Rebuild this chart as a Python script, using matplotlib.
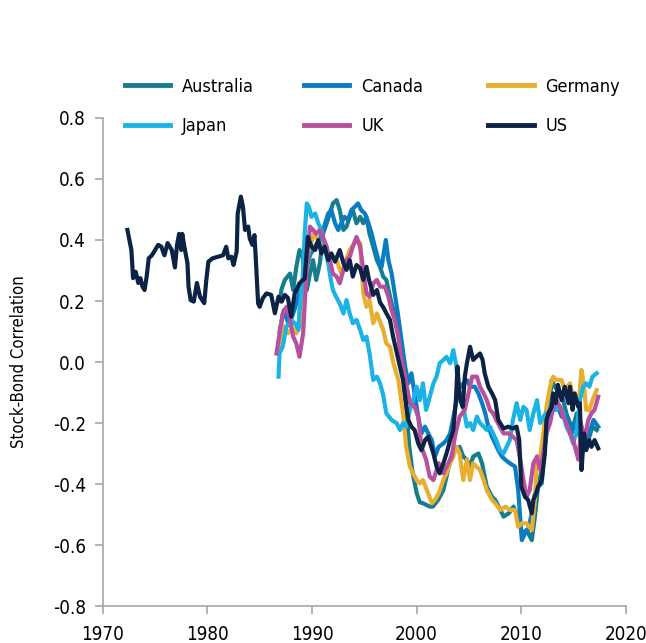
import matplotlib
matplotlib.use('Agg')
import matplotlib.pyplot as plt

plt.rcParams['font.family'] = ['DejaVu Sans']
plt.rcParams['font.stretch'] = 'condensed'

# values (year, rolling stock-bond correlation)
us_years = [1972.36, 1972.74, 1972.9, 1973.15, 1973.4, 1973.6, 1973.8, 1974.0, 1974.2, 1974.4,
            1974.7, 1975.0, 1975.3, 1975.6, 1975.9, 1976.2, 1976.6, 1976.9, 1977.1, 1977.3,
            1977.5, 1977.6, 1977.8, 1978.1, 1978.2, 1978.4, 1978.7, 1979.0, 1979.3, 1979.7,
            1979.9, 1980.1, 1980.5, 1981.0, 1981.5, 1981.8, 1982.0, 1982.3, 1982.5, 1982.8,
            1982.9, 1983.2, 1983.4, 1983.6, 1983.9, 1984.05, 1984.3, 1984.5, 1984.6, 1984.85,
            1985.0, 1985.3, 1985.65, 1986.1, 1986.45, 1986.8, 1987.1, 1987.4, 1987.7, 1988.0,
            1988.35, 1988.8, 1989.3, 1989.6, 1989.95, 1990.3, 1990.6, 1990.9, 1991.2, 1991.55,
            1991.85, 1992.2, 1992.65, 1993.0, 1993.3, 1993.6, 1993.9, 1994.25, 1994.6, 1994.9,
            1995.2, 1995.45, 1995.85, 1996.2, 1996.5, 1996.8, 1997.1, 1997.45, 1997.75, 1998.1,
            1998.4, 1998.7, 1998.9, 1999.2, 1999.5, 1999.8, 2000.15, 2000.45, 2000.8, 2001.1,
            2001.6, 2001.9, 2002.2, 2002.55, 2002.85, 2003.2, 2003.5, 2003.75, 2003.9, 2004.1,
            2004.4, 2004.6, 2004.8, 2005.1, 2005.4, 2005.7, 2006.05, 2006.3, 2006.5, 2006.85,
            2007.2, 2007.5, 2007.8, 2008.3, 2008.75, 2009.2, 2009.55, 2009.8, 2010.0, 2010.35,
            2010.65, 2011.0, 2011.15, 2011.4, 2011.6, 2011.95, 2012.25, 2012.4, 2012.6, 2012.9,
            2013.05, 2013.3, 2013.5, 2013.85, 2014.15, 2014.5, 2014.65, 2014.9, 2015.1, 2015.45,
            2015.6, 2015.75, 2016.0, 2016.2, 2016.5, 2016.7, 2017.0, 2017.35]
us_vals = [0.433, 0.367, 0.275, 0.296, 0.259, 0.275, 0.247, 0.236, 0.28, 0.34,
           0.35, 0.367, 0.384, 0.378, 0.35, 0.39, 0.367, 0.31, 0.384, 0.42,
           0.367, 0.42, 0.378, 0.324, 0.247, 0.203, 0.198, 0.259, 0.214, 0.193,
           0.269, 0.329, 0.34, 0.345, 0.35, 0.378, 0.34, 0.345, 0.318, 0.362,
           0.487, 0.542, 0.509, 0.433, 0.444, 0.405, 0.384, 0.416, 0.356, 0.192,
           0.181, 0.209, 0.225, 0.22, 0.16, 0.214, 0.198, 0.22, 0.21, 0.149,
           0.225, 0.258, 0.274, 0.41, 0.378, 0.367, 0.4, 0.356, 0.378, 0.334,
           0.356, 0.329, 0.367, 0.324, 0.302, 0.334, 0.28, 0.318, 0.307, 0.269,
           0.312, 0.269, 0.22, 0.236, 0.195, 0.18, 0.16, 0.138, 0.083, 0.03,
           -0.015, -0.059, -0.114, -0.19, -0.212, -0.223, -0.267, -0.289, -0.256, -0.245,
           -0.3, -0.343, -0.365, -0.332, -0.3, -0.256, -0.223, -0.125, -0.015, -0.114,
           -0.147, -0.048, -0.004, 0.05, 0.007, 0.017, 0.028, 0.007, -0.037, -0.081,
           -0.103, -0.125, -0.19, -0.218, -0.212, -0.218, -0.212, -0.256, -0.409, -0.442,
           -0.452, -0.496, -0.452, -0.431, -0.409, -0.387, -0.3, -0.19, -0.168, -0.147,
           -0.103, -0.135, -0.075, -0.125, -0.081, -0.135, -0.081, -0.157, -0.103, -0.147,
           -0.135, -0.354, -0.234, -0.289, -0.256, -0.278, -0.256, -0.283]

japan_years = [1986.8, 1986.9, 1987.2, 1987.55, 1988.0, 1988.35, 1988.7, 1988.8, 1989.1, 1989.3,
               1989.5, 1989.7, 1989.95, 1990.3, 1990.6, 1990.9, 1991.2, 1991.55, 1991.8, 1992.0,
               1992.3, 1992.65, 1993.0, 1993.3, 1993.6, 1993.9, 1994.25, 1994.6, 1994.9, 1995.2,
               1995.5, 1995.85, 1996.2, 1996.5, 1996.8, 1997.1, 1997.6, 1998.1, 1998.4, 1998.7,
               1999.0, 1999.35, 1999.65, 2000.0, 2000.3, 2000.6, 2000.9, 2001.25, 2001.6, 2001.9,
               2002.2, 2002.55, 2002.85, 2003.2, 2003.5, 2003.8, 2004.1, 2004.45, 2004.8, 2005.1,
               2005.4, 2005.75, 2006.05, 2006.4, 2006.7, 2007.0, 2007.3, 2007.6, 2007.95, 2008.3,
               2008.6, 2008.9, 2009.2, 2009.55, 2009.9, 2010.2, 2010.5, 2010.8, 2011.15, 2011.5,
               2011.8, 2012.1, 2012.4, 2012.75, 2013.05, 2013.35, 2013.7, 2014.0, 2014.3, 2014.65,
               2014.95, 2015.3, 2015.6, 2015.9, 2016.2, 2016.5, 2016.8, 2017.2]
japan_vals = [-0.048, 0.03, 0.05, 0.116, 0.138, 0.127, 0.105, 0.17, 0.269, 0.42,
              0.52, 0.509, 0.476, 0.487, 0.455, 0.433, 0.378, 0.324, 0.269, 0.236,
              0.214, 0.192, 0.159, 0.203, 0.159, 0.127, 0.138, 0.105, 0.072, 0.083,
              0.028, -0.059, -0.048, -0.07, -0.108, -0.168, -0.19, -0.201, -0.223, -0.2,
              -0.212, -0.157, -0.125, -0.081, -0.125, -0.07, -0.157, -0.114, -0.07, -0.048,
              -0.004, 0.007, 0.017, -0.004, 0.039, -0.015, -0.125, -0.147, -0.212, -0.2,
              -0.223, -0.179, -0.2, -0.212, -0.223, -0.212, -0.234, -0.256, -0.289, -0.3,
              -0.278, -0.256, -0.19, -0.135, -0.19, -0.147, -0.157, -0.223, -0.168, -0.125,
              -0.2, -0.179, -0.168, -0.157, -0.135, -0.157, -0.147, -0.168, -0.212, -0.234,
              -0.267, -0.223, -0.125, -0.081, -0.07, -0.081, -0.048, -0.037]

australia_years = [1986.9, 1987.1, 1987.4, 1987.9, 1988.2, 1988.5, 1988.8, 1989.1, 1989.5, 1989.8,
                   1990.1, 1990.4, 1990.75, 1991.05, 1991.4, 1991.7, 1992.0, 1992.35, 1992.65, 1993.0,
                   1993.3, 1993.6, 1993.9, 1994.25, 1994.6, 1994.9, 1995.2, 1995.5, 1995.85, 1996.2,
                   1996.5, 1996.8, 1997.1, 1997.6, 1998.1, 1998.4, 1998.7, 1999.0, 1999.3, 1999.6,
                   2000.0, 2000.3, 2000.6, 2001.25, 2001.55, 2002.05, 2002.55, 2002.85, 2003.2, 2003.5,
                   2004.1, 2004.45, 2004.8, 2005.1, 2005.4, 2005.9, 2006.25, 2006.7, 2007.2, 2007.5,
                   2008.0, 2008.3, 2008.8, 2009.25, 2009.7, 2010.05, 2010.5, 2011.0, 2011.3, 2011.6,
                   2011.95, 2012.25, 2012.6, 2012.9, 2013.2, 2013.7, 2014.0, 2014.3, 2014.65, 2014.95,
                   2015.3, 2015.6, 2015.9, 2016.2, 2016.5, 2016.8, 2017.2]
australia_vals = [0.2, 0.24, 0.269, 0.29, 0.236, 0.312, 0.367, 0.345, 0.236, 0.29,
                  0.334, 0.269, 0.324, 0.42, 0.455, 0.487, 0.52, 0.531, 0.498, 0.433,
                  0.444, 0.476, 0.498, 0.455, 0.476, 0.455, 0.476, 0.42, 0.378, 0.334,
                  0.312, 0.28, 0.269, 0.192, 0.127, 0.05, -0.037, -0.15, -0.28, -0.36,
                  -0.43, -0.46, -0.463, -0.474, -0.474, -0.452, -0.42, -0.376, -0.32, -0.289,
                  -0.278, -0.31, -0.32, -0.343, -0.31, -0.3, -0.332, -0.409, -0.442, -0.452,
                  -0.485, -0.507, -0.496, -0.474, -0.507, -0.562, -0.551, -0.584, -0.507, -0.409,
                  -0.354, -0.278, -0.179, -0.059, -0.081, -0.103, -0.125, -0.168, -0.2, -0.212,
                  -0.168, -0.19, -0.234, -0.267, -0.245, -0.212, -0.223]

germany_years = [1986.9, 1987.2, 1987.7, 1988.1, 1988.5, 1988.9, 1989.3, 1989.8, 1990.2, 1990.6,
                 1991.0, 1991.4, 1991.9, 1992.35, 1992.8, 1993.2, 1993.6, 1994.25, 1994.6, 1994.9,
                 1995.2, 1995.5, 1995.85, 1996.2, 1996.8, 1997.1, 1997.45, 1997.75, 1998.25, 1998.7,
                 1999.0, 1999.35, 1999.65, 2000.0, 2000.3, 2000.6, 2001.1, 2001.45, 2001.75, 2002.1,
                 2002.55, 2002.85, 2003.2, 2003.5, 2003.8, 2004.1, 2004.45, 2004.8, 2005.1, 2005.4,
                 2006.05, 2006.4, 2006.7, 2007.2, 2007.5, 2008.0, 2008.5, 2008.9, 2009.4, 2009.7,
                 2010.05, 2010.5, 2011.0, 2011.3, 2011.5, 2011.8, 2012.1, 2012.4, 2012.75, 2013.05,
                 2013.35, 2013.85, 2014.15, 2014.65, 2014.95, 2015.45, 2015.75, 2016.0, 2016.2, 2016.5,
                 2016.8, 2017.2]
germany_vals = [0.05, 0.12, 0.094, 0.11, 0.094, 0.12, 0.3, 0.378, 0.42, 0.4,
                0.38, 0.36, 0.35, 0.334, 0.29, 0.33, 0.367, 0.4, 0.389, 0.225,
                0.181, 0.203, 0.127, 0.159, 0.105, 0.061, 0.05, 0.0, -0.059, -0.168,
                -0.278, -0.343, -0.365, -0.387, -0.398, -0.387, -0.431, -0.463, -0.452, -0.431,
                -0.387, -0.365, -0.332, -0.31, -0.278, -0.3, -0.387, -0.32, -0.387, -0.332,
                -0.354, -0.387, -0.42, -0.452, -0.463, -0.485, -0.474, -0.485, -0.485, -0.54,
                -0.529, -0.529, -0.551, -0.452, -0.31, -0.31, -0.234, -0.147, -0.081, -0.048,
                -0.059, -0.059, -0.092, -0.07, -0.114, -0.147, -0.026, -0.081, -0.157, -0.157,
                -0.125, -0.092]

uk_years = [1986.6, 1986.9, 1987.2, 1987.55, 1987.9, 1988.2, 1988.5, 1988.8, 1989.15, 1989.5,
            1989.8, 1990.1, 1990.4, 1990.75, 1991.05, 1991.4, 1991.7, 1992.0, 1992.35, 1992.65,
            1993.0, 1993.3, 1993.6, 1993.9, 1994.25, 1994.6, 1994.9, 1995.2, 1995.5, 1995.85,
            1996.2, 1996.5, 1996.95, 1997.3, 1997.6, 1997.9, 1998.25, 1998.55, 1998.9, 1999.35,
            1999.8, 2000.15, 2000.45, 2000.9, 2001.25, 2001.6, 2002.1, 2002.55, 2002.85, 2003.35,
            2003.65, 2004.1, 2004.6, 2004.95, 2005.3, 2005.75, 2006.05, 2006.4, 2006.7, 2007.0,
            2007.3, 2007.6, 2007.95, 2008.3, 2008.75, 2009.2, 2009.55, 2009.9, 2010.2, 2010.5,
            2010.8, 2011.15, 2011.5, 2011.8, 2012.1, 2012.4, 2012.75, 2013.05, 2013.35, 2013.7,
            2014.0, 2014.3, 2014.65, 2014.95, 2015.3, 2015.45, 2015.75, 2016.1, 2016.4, 2016.7,
            2017.0, 2017.35]
uk_vals = [0.028, 0.094, 0.159, 0.181, 0.138, 0.083, 0.061, 0.017, 0.094, 0.312,
           0.444, 0.433, 0.42, 0.433, 0.41, 0.378, 0.334, 0.29, 0.28, 0.258,
           0.302, 0.334, 0.345, 0.378, 0.41, 0.378, 0.302, 0.225, 0.214, 0.258,
           0.269, 0.247, 0.247, 0.214, 0.17, 0.138, 0.083, 0.007, -0.05, -0.135,
           -0.147, -0.179, -0.278, -0.32, -0.376, -0.387, -0.332, -0.365, -0.343, -0.31,
           -0.245, -0.179, -0.157, -0.103, -0.048, -0.048, -0.081, -0.103, -0.125, -0.157,
           -0.168, -0.19, -0.212, -0.234, -0.234, -0.245, -0.256, -0.32, -0.387, -0.442,
           -0.42, -0.332, -0.31, -0.354, -0.3, -0.234, -0.2, -0.147, -0.125, -0.147,
           -0.179, -0.2, -0.234, -0.256, -0.3, -0.32, -0.212, -0.245, -0.19, -0.168,
           -0.157, -0.114]

canada_years = [1986.9, 1987.3, 1987.8, 1988.2, 1988.6, 1989.0, 1989.4, 1989.8, 1990.3, 1990.7,
                1991.05, 1991.55, 1991.85, 1992.2, 1992.5, 1992.8, 1993.1, 1993.45, 1993.75, 1994.1,
                1994.4, 1994.7, 1995.05, 1995.4, 1995.7, 1996.0, 1996.35, 1996.65, 1997.05, 1997.3,
                1997.6, 1997.9, 1998.2, 1998.55, 1998.9, 1999.2, 1999.5, 1999.8, 2000.15, 2000.45,
                2000.8, 2001.1, 2001.45, 2001.75, 2002.1, 2002.55, 2002.85, 2003.2, 2003.65, 2003.95,
                2004.45, 2004.8, 2005.1, 2005.55, 2005.9, 2006.25, 2006.55, 2006.85, 2007.2, 2007.5,
                2007.8, 2008.15, 2008.45, 2008.9, 2009.4, 2009.7, 2010.05, 2010.35, 2010.65, 2011.0,
                2011.3, 2011.6, 2011.95, 2012.25, 2012.6, 2012.9, 2013.2, 2013.5, 2013.85, 2014.15,
                2014.5, 2014.8, 2015.1, 2015.45, 2015.75, 2016.1, 2016.4, 2016.7, 2016.9, 2017.35]
canada_vals = [0.1, 0.17, 0.12, 0.159, 0.2, 0.26, 0.3, 0.35, 0.38, 0.4,
               0.433, 0.487, 0.498, 0.455, 0.433, 0.455, 0.476, 0.466, 0.498, 0.509,
               0.52, 0.498, 0.487, 0.455, 0.42, 0.378, 0.334, 0.312, 0.4, 0.334,
               0.291, 0.225, 0.159, 0.072, -0.015, -0.07, -0.037, -0.103, -0.179, -0.234,
               -0.212, -0.234, -0.256, -0.31, -0.278, -0.267, -0.256, -0.234, -0.157, -0.092,
               -0.07, -0.059, -0.081, -0.081, -0.103, -0.135, -0.168, -0.212, -0.245, -0.267,
               -0.289, -0.31, -0.32, -0.332, -0.343, -0.42, -0.584, -0.562, -0.551, -0.496,
               -0.431, -0.409, -0.398, -0.267, -0.157, -0.135, -0.157, -0.147, -0.179, -0.168,
               -0.2, -0.234, -0.2, -0.234, -0.256, -0.267, -0.234, -0.212, -0.19, -0.212]

x_ticks = [1970, 1980, 1990, 2000, 2010, 2020]
y_ticks = [-0.8, -0.6, -0.4, -0.2, 0.0, 0.2, 0.4, 0.6, 0.8]

fig = plt.figure(figsize=(6.46, 6.43), dpi=100)
ax = fig.add_axes([0.159, 0.0575, 0.81, 0.759])

lw = 3.0
l_aus, = ax.plot(australia_years, australia_vals, color='#167D8C', lw=lw, label='Australia')
l_can, = ax.plot(canada_years, canada_vals, color='#0A7CC3', lw=lw, label='Canada')
l_ger, = ax.plot(germany_years, germany_vals, color='#E8AE30', lw=lw, label='Germany')
l_jap, = ax.plot(japan_years, japan_vals, color='#1BB3E6', lw=lw, label='Japan')
l_uk, = ax.plot(uk_years, uk_vals, color='#B7509F', lw=lw, label='UK')
l_us, = ax.plot(us_years, us_vals, color='#0C2346', lw=lw, label='US')

ax.set_xlim(1970, 2020)
ax.set_ylim(-0.8, 0.8)
ax.set_xticks(x_ticks)
ax.set_yticks(y_ticks)
ax.set_yticklabels(['%.1f' % v for v in y_ticks])
for s in ['top', 'right']:
    ax.spines[s].set_visible(False)
for s in ['left', 'bottom']:
    ax.spines[s].set_color('#A6A6A6')
    ax.spines[s].set_linewidth(1.2)
ax.tick_params(colors='#A6A6A6', labelcolor='black', labelsize=13.5, length=6, width=1.2)
ax.tick_params(axis='x', pad=8)
ax.tick_params(axis='y', pad=6)
ax.set_ylabel('Stock-Bond Correlation', fontsize=12, labelpad=18)

# three one-column legends so each column sits where the reference has it
cols = [([l_aus, l_jap], ['Australia', 'Japan'], 0.193),
        ([l_can, l_uk], ['Canada', 'UK'], 0.471),
        ([l_ger, l_us], ['Germany', 'US'], 0.756)]
for handles, labels, x0 in cols:
    leg = fig.legend(handles, labels, loc='upper left', bbox_to_anchor=(x0, 0.879),
                     frameon=False, fontsize=13, handlelength=2.5, handletextpad=0.65,
                     labelspacing=1.2, borderpad=0, borderaxespad=0)
    for h in leg.legend_handles:
        h.set_linewidth(3.5)

fig.savefig('out.png', dpi=100)
